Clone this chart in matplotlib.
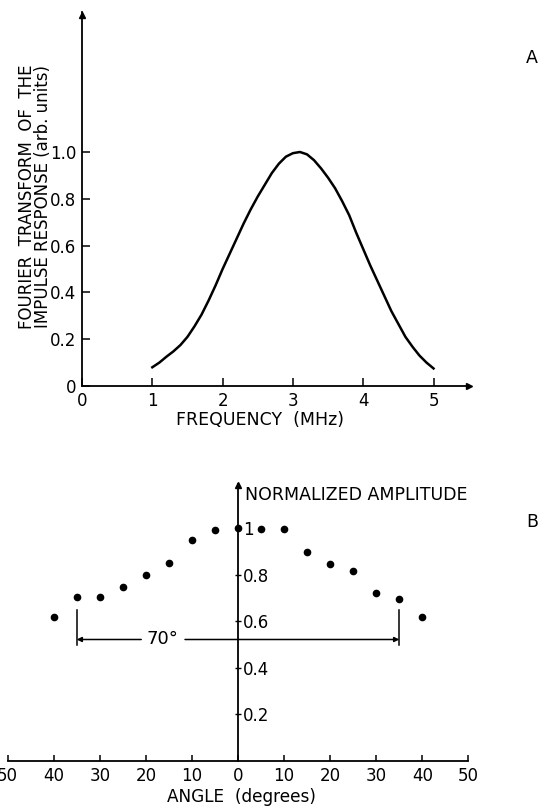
import matplotlib
matplotlib.use("Agg")
from matplotlib import pyplot as plt
import numpy as np

# panel A: spectrum of the impulse response
freq = [1.0, 1.1, 1.2, 1.3, 1.4, 1.5, 1.6, 1.7, 1.8, 1.9, 2.0, 2.1, 2.2, 2.3, 2.4,
        2.5, 2.6, 2.7, 2.8, 2.9, 3.0, 3.1, 3.2, 3.3, 3.4, 3.5, 3.6, 3.7, 3.8, 3.9,
        4.0, 4.1, 4.2, 4.3, 4.4, 4.5, 4.6, 4.7, 4.8, 4.9, 5.0]
response = [0.08, 0.10, 0.125, 0.148, 0.175, 0.21, 0.255, 0.305, 0.365, 0.43, 0.50,
            0.565, 0.63, 0.695, 0.755, 0.81, 0.86, 0.91, 0.95, 0.98, 0.995, 1.0,
            0.99, 0.965, 0.93, 0.89, 0.845, 0.79, 0.73, 0.655, 0.585, 0.515, 0.45,
            0.385, 0.32, 0.265, 0.21, 0.168, 0.13, 0.10, 0.075]
freq_ticks = [0, 1, 2, 3, 4, 5]
resp_ticks = [0, 0.2, 0.4, 0.6, 0.8, 1.0]
resp_labels = ["0", "0.2", "0.4", "0.6", "0.8", "1.0"]

# panel B: directivity
angle = [-40, -35, -30, -25, -20, -15, -10, -5, 0, 5, 10, 15, 20, 25, 30, 35, 40]
amplitude = [0.62, 0.703, 0.703, 0.748, 0.801, 0.851, 0.948, 0.994, 1.0, 0.997,
             0.997, 0.897, 0.848, 0.815, 0.72, 0.698, 0.62]
angle_ticks = [-50, -40, -30, -20, -10, 0, 10, 20, 30, 40, 50]
amp_ticks = [0.2, 0.4, 0.6, 0.8, 1.0]
amp_labels = ["0.2", "0.4", "0.6", "0.8", "1"]
beam_width = 70

plt.rcParams['font.family'] = ['DejaVu Sans']
W, H = 542, 806
fig = plt.figure(figsize=(W / 100, H / 100), dpi=100)

# ---------- A ----------
ax1 = fig.add_axes([82 / W, (H - 386) / H, 386.7 / W, 374.4 / H])
ax1.plot(freq, response, color="black", lw=1.8)
ax1.set_xlim(0, 5.5)
ax1.set_ylim(0, 1.6)
for s in ["top", "right"]:
    ax1.spines[s].set_visible(False)
for s in ["left", "bottom"]:
    ax1.spines[s].set_linewidth(1.3)
ax1.plot(1, 0, ">k", ms=5, transform=ax1.get_yaxis_transform(), clip_on=False)
ax1.plot(0, 0.99, "^k", ms=4, transform=ax1.get_xaxis_transform(), clip_on=False)
ax1.set_xticks(freq_ticks)
ax1.set_xticklabels([str(t) for t in freq_ticks])
ax1.set_yticks(resp_ticks)
ax1.set_yticklabels(resp_labels)
ax1.tick_params(direction="in", length=6, width=1.1, labelsize=12, pad=4)
fig.text(260 / W, 1 - 420 / H, "FREQUENCY  (MHz)", ha="center", va="center", fontsize=12.5)
fig.text(35 / W, 1 - 197 / H, "FOURIER  TRANSFORM  OF  THE\nIMPULSE RESPONSE (arb. units)",
         rotation=90, ha="center", va="center", multialignment="center",
         linespacing=0.85, fontsize=12)
fig.text(532 / W, 1 - 58 / H, "A", ha="center", va="center", fontsize=12.5)

# ---------- B ----------
ax2 = fig.add_axes([7.6 / W, (H - 761) / H, 460.8 / W, 277 / H])
ax2.plot(angle, amplitude, "o", color="black", ms=4.5)
ax2.set_xlim(-50, 50)
ax2.set_ylim(0, 1.19)
ax2.spines["top"].set_visible(False)
ax2.spines["left"].set_visible(False)
ax2.spines["right"].set_position(("data", 0))
ax2.spines["right"].set_linewidth(1.3)
ax2.spines["bottom"].set_linewidth(1.3)
ax2.yaxis.set_ticks_position("right")
ax2.plot(0, 0.995, "^k", ms=4, transform=ax2.get_xaxis_transform(), clip_on=False)
ax2.set_xticks(angle_ticks)
ax2.set_xticklabels([str(abs(t)) for t in angle_ticks])
ax2.set_yticks(amp_ticks)
ax2.set_yticklabels(amp_labels)
ax2.tick_params(axis="x", direction="in", length=4, width=1.1, labelsize=12, pad=4)
ax2.tick_params(axis="y", direction="inout", length=5, width=1.0, labelsize=12, pad=1)

# 70 degree bracket
half = beam_width / 2
for x in (-half, half):
    ax2.plot([x, x], [0.498, 0.648], color="black", lw=1.1)
ax2.annotate("", xy=(-half, 0.522), xytext=(-21, 0.522),
             arrowprops=dict(arrowstyle="-|>", color="black", lw=1.1, mutation_scale=7,
                             shrinkA=0, shrinkB=0))
ax2.annotate("", xy=(half, 0.522), xytext=(-11.5, 0.522),
             arrowprops=dict(arrowstyle="-|>", color="black", lw=1.1, mutation_scale=7,
                             shrinkA=0, shrinkB=0))
ax2.text(-16.3, 0.522, "%d°" % beam_width, ha="center", va="center", fontsize=13)

fig.text(245 / W, 1 - 495 / H, "NORMALIZED AMPLITUDE", ha="left", va="center", fontsize=12.5)
fig.text(241 / W, 1 - 797 / H, "ANGLE  (degrees)", ha="center", va="center", fontsize=12.2)
fig.text(532 / W, 1 - 522 / H, "B", ha="center", va="center", fontsize=12.5)

plt.savefig("out.png", dpi=100)
